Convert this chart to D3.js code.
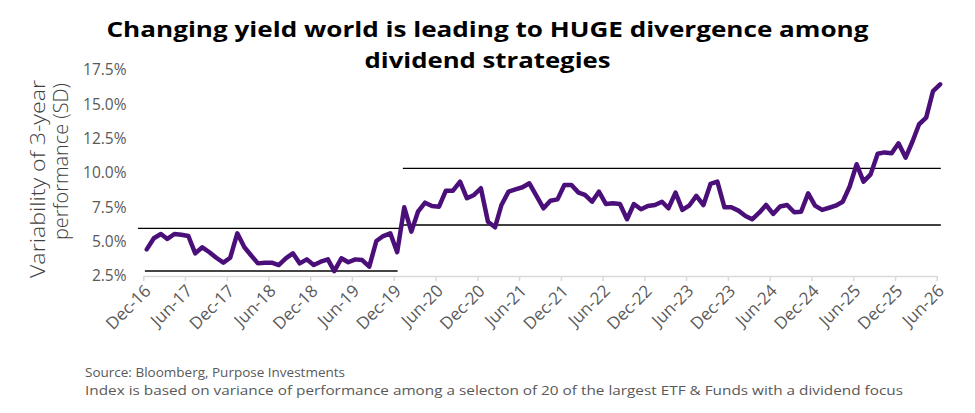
<!DOCTYPE html>
<html><head><meta charset="utf-8">
<script src="https://cdn.jsdelivr.net/npm/d3@7"></script>
<style>body{margin:0;background:#fff}svg{display:block}</style>
</head><body>
<svg id="chart" width="975" height="413"></svg>
<script>
// ---- data ----
const firstMonth = "2016-12-16";
const values = [
 4.44,5.25,5.56,5.20,5.56,5.50,5.41,4.15,4.59,4.23,3.83,3.47,3.83,5.61,4.59,4.03,3.42,3.47,3.47,3.30,
 3.79,4.15,3.42,3.71,3.30,3.54,3.71,2.86,3.79,3.50,3.71,3.66,3.18,5.05,5.41,5.61,4.23,7.50,5.73,7.18,
 7.84,7.60,7.55,8.71,8.71,9.37,8.16,8.40,8.89,6.45,6.05,7.67,8.64,8.81,8.96,9.25,8.33,7.43,7.98,8.08,
 9.13,9.13,8.57,8.40,7.91,8.64,7.74,7.79,7.74,6.63,7.74,7.36,7.60,7.67,7.91,7.43,8.57,7.31,7.65,8.33,
 7.67,9.20,9.37,7.50,7.50,7.26,6.87,6.63,7.11,7.67,7.02,7.56,7.67,7.14,7.18,8.52,7.62,7.31,7.47,7.62,
 7.91,9.00,10.64,9.37,9.90,11.40,11.50,11.44,12.16,11.12,12.33,13.55,14.03,15.97,16.46
];
const tickLabels = ["Dec-16","Jun-17","Dec-17","Jun-18","Dec-18","Jun-19","Dec-19","Jun-20","Dec-20","Jun-21",
 "Dec-21","Jun-22","Dec-22","Jun-23","Dec-23","Jun-24","Dec-24","Jun-25","Dec-25","Jun-26"];
const yTickValues = [2.5,5,7.5,10,12.5,15,17.5];
const refValues = [2.86, 5.97, 6.21, 10.34];
const refStarts = ["2016-12-08","2016-11-08","2020-01-10","2020-01-10"];
const refEnds   = ["2019-12-18","2020-01-10","2026-06-19","2026-06-19"];
const titleLines = ["Changing yield world is leading to HUGE divergence among","dividend strategies"];
const yTitleLines = ["Variability of 3-year","performance (SD)"];
const sourceLines = ["Source: Bloomberg, Purpose Investments",
 "Index is based on variance of performance among a selecton of 20 of the largest ETF & Funds with a dividend focus"];

// ---- drawing ----
const svg = d3.select("#chart");
const font = "'Open Sans', 'Lato', sans-serif";
const parseDay = d3.timeParse("%Y-%m-%d");
const parseTick = d3.timeParse("%b-%y");
const t0 = parseDay(firstMonth);
const series = values.map((v,i)=>({date:d3.timeMonth.offset(t0,i), value:v}));
const tickDates = tickLabels.map(parseTick);

const x = d3.scaleTime().domain([tickDates[0], tickDates[tickDates.length-1]]).range([143.3, 936.7]);
const y = d3.scaleLinear().domain([2.5, 17.5]).range([276, 70]);

// title
svg.append("g").selectAll("text").data(titleLines).join("text")
  .attr("x", 487.5).attr("y",(d,i)=>37+i*31)
  .attr("text-anchor","middle")
  .attr("font-family",font).attr("font-weight",700).attr("font-size",22)
  .attr("fill","#000")
  .attr("textLength",(d,i)=> i===0?762:246).attr("lengthAdjust","spacingAndGlyphs")
  .text(d=>d);

// y axis title
const yt = svg.append("g");
const ytPos = [{bx:45, end:80, len:198},{bx:68, end:83, len:157}];
yt.selectAll("text").data(yTitleLines).join("text")
  .attr("transform",(d,i)=>`translate(${ytPos[i].bx},${ytPos[i].end}) rotate(-90)`)
  .attr("text-anchor","end")
  .attr("font-family",font).attr("font-weight",300).attr("font-size",20)
  .attr("fill","#404040")
  .attr("textLength",(d,i)=>ytPos[i].len).attr("lengthAdjust","spacingAndGlyphs")
  .text(d=>d);

// y axis
const yAxis = svg.append("g").attr("transform","translate(130,0)")
  .call(d3.axisLeft(y).tickValues(yTickValues).tickSize(0).tickPadding(3.5)
    .tickFormat(d=>d.toFixed(1)+"%"));
yAxis.select(".domain").remove();
yAxis.selectAll("text").attr("font-family",font).attr("font-size",15.5).attr("fill","#595959");

// x axis
const xAxis = svg.append("g").attr("transform","translate(0,276)")
  .call(d3.axisBottom(x).tickValues(tickDates).tickSize(5).tickSizeOuter(0)
    .tickFormat(d3.timeFormat("%b-%y")));
xAxis.select(".domain").attr("stroke","#d9d9d9").attr("stroke-width",1.5);
xAxis.selectAll(".tick line").attr("stroke","#d9d9d9").attr("stroke-width",1.5);
xAxis.selectAll(".tick text")
  .attr("font-family",font).attr("font-size",17).attr("fill","#595959")
  .attr("text-anchor","end")
  .attr("transform","translate(8,16) rotate(-45)")
  .attr("x",0).attr("y",0).attr("dy",0);

// reference lines
const refs = refValues.map((v,i)=>({v, a:parseDay(refStarts[i]), b:parseDay(refEnds[i]), i}));
svg.append("g").selectAll("line").data(refs).join("line")
  .attr("x1",d=>x(d.a)).attr("x2",d=>x(d.b))
  .attr("y1",d=>y(d.v)).attr("y2",d=>y(d.v))
  .attr("stroke",d=>d.i===0?"#444":"#000")
  .attr("stroke-width",d=>d.i===0?2:1.4);

// series line
svg.append("path").datum(series)
  .attr("fill","none").attr("stroke","#4B0F7A").attr("stroke-width",4.5)
  .attr("stroke-linejoin","round").attr("stroke-linecap","round")
  .attr("d", d3.line().x(d=>x(d.date)).y(d=>y(d.value)));

// source
svg.append("g").selectAll("text").data(sourceLines).join("text")
  .attr("x",85).attr("y",(d,i)=>377+i*17.5)
  .attr("font-family",font).attr("font-size",13.5).attr("fill","#595959")
  .each(function(d,i){ if(i===1) d3.select(this).attr("textLength",818).attr("lengthAdjust","spacingAndGlyphs"); })
  .text(d=>d);
</script>
</body></html>
